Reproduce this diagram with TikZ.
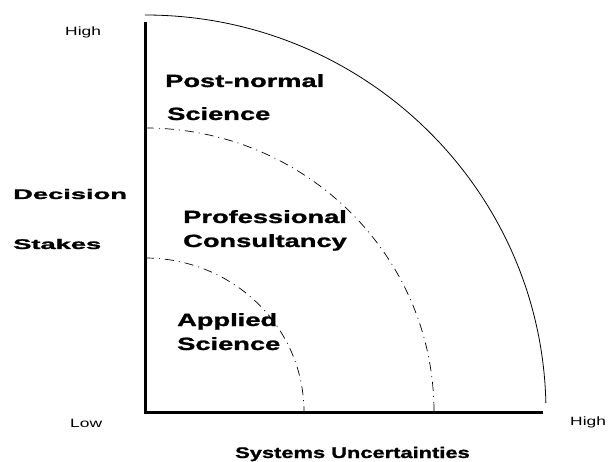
\documentclass[tikz,border=0pt]{standalone}
\usepackage{fontspec}
\setmainfont{Liberation Sans}
\newfontfamily\heavy{Liberation Sans}[FakeBold=1.2]
\usepackage{graphicx}
\newcommand{\xs}[2]{\scalebox{#1}[1]{#2}}
\begin{document}
\begin{tikzpicture}[x=1pt,y=1pt,
  big/.style={anchor=base west, inner sep=0pt, font=\heavy\bfseries\fontsize{17.7}{20}\selectfont},
  side/.style={anchor=base west, inner sep=0pt, font=\heavy\bfseries\fontsize{14}{16}\selectfont},
  tick/.style={anchor=base west, inner sep=0pt, font=\fontsize{12}{14}\selectfont},
  axis/.style={line width=3pt, line join=miter},
  zone/.style={line width=0.7pt, dash pattern=on 9pt off 5pt on 1pt off 5pt},
  rim/.style={line width=0.8pt}]
\useasboundingbox (0,0) rectangle (608,461);
% axes
\coordinate (top) at (145,439);
\coordinate (origin) at (145,49);
\coordinate (right) at (543,49);
\draw[axis] (top) -- (origin) -- (right);
% arcs
\draw[rim] (145,446) arc[start angle=90, end angle=1.3, x radius=401, y radius=397];
\draw[zone] (145,333) arc[start angle=90, end angle=0, x radius=289, y radius=284];
\draw[zone] (145,203) arc[start angle=90, end angle=0, x radius=159, y radius=154];
% axis labels
\node[tick] (yhigh) at (65,425) {\xs{1.45}{High}};
\node[tick] (ylow) at (70,34) {\xs{1.45}{Low}};
\node[tick] (xhigh) at (570,36) {\xs{1.45}{High}};
\node[side] (dec) at (13,262) {\xs{1.95}{Decision}};
\node[side] (stk) at (13,212) {\xs{1.95}{Stakes}};
\node[anchor=base west, inner sep=0pt, font=\heavy\bfseries\fontsize{15.4}{17}\selectfont] (sys) at (235,3) {\xs{1.42}{Systems Uncertainties}};
% zone labels
\node[big] (pn1) at (165,374) {\xs{1.54}{Post-normal}};
\node[big] (pn2) at (167,341) {\xs{1.54}{Science}};
\node[big] (pc1) at (183,238) {\xs{1.54}{Professional}};
\node[big] (pc2) at (183,214) {\xs{1.54}{Consultancy}};
\node[big] (as1) at (177,135) {\xs{1.54}{Applied}};
\node[big] (as2) at (177,111) {\xs{1.54}{Science}};
\end{tikzpicture}
\end{document}
